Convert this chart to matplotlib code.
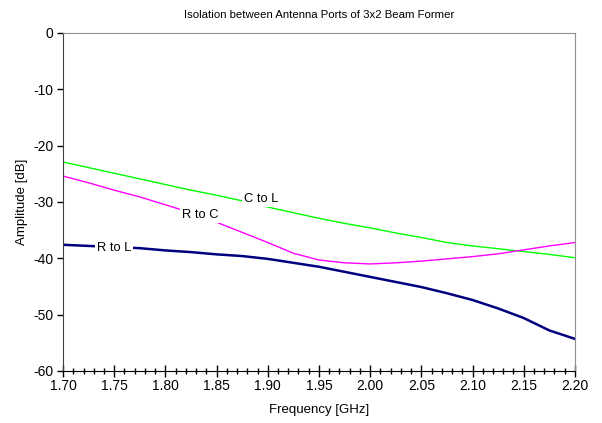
import numpy as np
import matplotlib.pyplot as plt
from matplotlib.ticker import MultipleLocator

plt.rcParams['font.family'] = ['Liberation Sans', 'DejaVu Sans']
plt.rcParams['axes.unicode_minus'] = False

# frequency sweep and isolation between port pairs
freq = [1.700, 1.725, 1.750, 1.775, 1.800, 1.825, 1.850, 1.875, 1.900, 1.925, 1.950,
        1.975, 2.000, 2.025, 2.050, 2.075, 2.100, 2.125, 2.150, 2.175, 2.200]
c_to_l = [-22.9, -23.9, -24.9, -25.9, -26.9, -27.9, -28.8, -29.8, -30.9, -31.9, -32.9,
          -33.8, -34.6, -35.5, -36.3, -37.2, -37.8, -38.3, -38.8, -39.3, -39.9]
r_to_c = [-25.4, -26.6, -27.9, -29.1, -30.5, -31.9, -33.6, -35.4, -37.2, -39.1, -40.3,
          -40.8, -41.0, -40.8, -40.5, -40.1, -39.7, -39.2, -38.5, -37.8, -37.2]
r_to_l = [-37.6, -37.8, -38.0, -38.2, -38.6, -38.9, -39.3, -39.6, -40.1, -40.8, -41.5,
          -42.4, -43.3, -44.2, -45.1, -46.2, -47.4, -48.9, -50.6, -52.8, -54.3]

fig = plt.figure(figsize=(6.02, 4.23), dpi=100)
ax = fig.add_axes([0.1047, 0.123, 0.8503, 0.799])

ax.plot(freq, c_to_l, color='#00ff00', lw=1.0)
ax.plot(freq, r_to_c, color='#ff00ff', lw=1.0)
ax.plot(freq, r_to_l, color='#000080', lw=1.8)

# inline labels sit on white boxes so the curve is broken around them
box = dict(facecolor='white', edgecolor='none', pad=1.5)
ax.text(1.894, -29.4, 'C to L', fontsize=9.3, ha='center', va='center', bbox=box)
ax.text(1.834, -32.3, 'R to C', fontsize=9.3, ha='center', va='center', bbox=box)
ax.text(1.750, -38.2, 'R to L', fontsize=9.3, ha='center', va='center', bbox=box)

ax.set_xlim(1.70, 2.20)
ax.set_ylim(-60, 0)
ax.xaxis.set_major_locator(MultipleLocator(0.05))
ax.xaxis.set_minor_locator(MultipleLocator(0.01))
ax.yaxis.set_major_locator(MultipleLocator(10))
ax.xaxis.set_major_formatter(plt.FormatStrFormatter('%.2f'))

ax.tick_params(axis='x', which='major', direction='inout', length=8, width=1, labelsize=10, pad=1.5)
ax.tick_params(axis='x', which='minor', direction='inout', length=4, width=1)
ax.tick_params(axis='y', which='major', direction='out', length=4, width=1, labelsize=10, pad=3)

ax.spines['left'].set_color('#404040')
ax.spines['bottom'].set_color('black')
ax.spines['top'].set_color('#909090')
ax.spines['right'].set_color('#909090')

ax.set_xlabel('Frequency [GHz]', fontsize=9.5, labelpad=8)
ax.set_ylabel('Amplitude [dB]', fontsize=9.5, labelpad=4)
ax.set_title('Isolation between Antenna Ports of 3x2 Beam Former', fontsize=8.2, pad=11)

plt.savefig('out.png', dpi=100)
